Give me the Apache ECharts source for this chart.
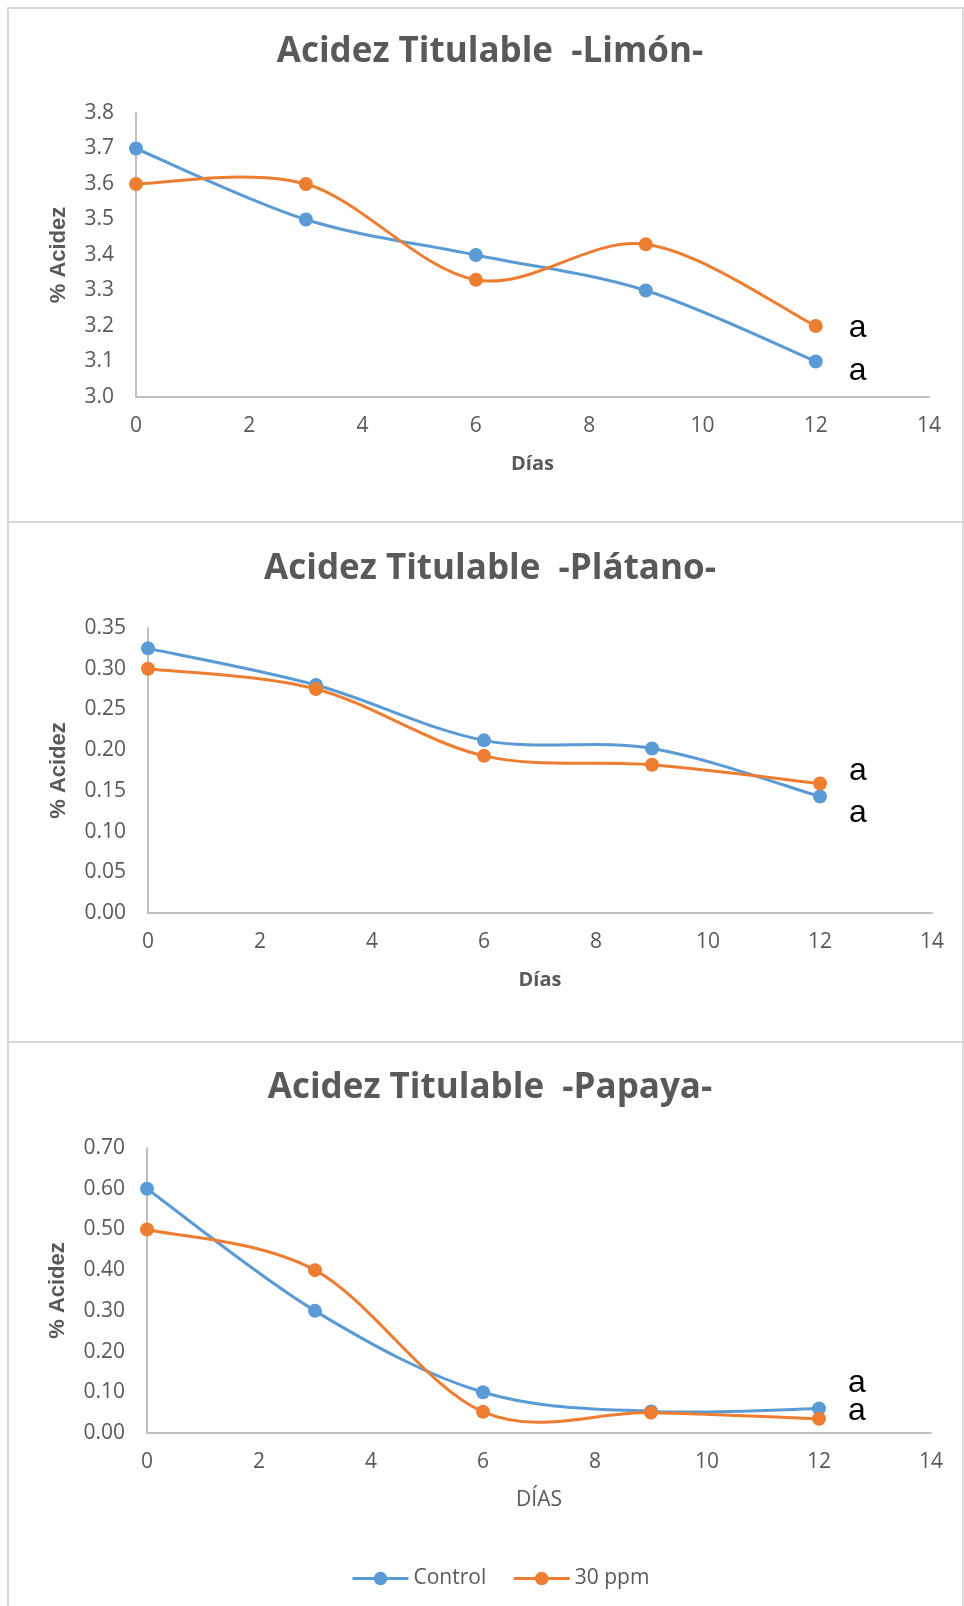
<!DOCTYPE html>
<html>
<head>
<meta charset="utf-8">
<title>Acidez Titulable</title>
<script src="https://cdn.jsdelivr.net/npm/echarts@6/dist/echarts.min.js"></script>
<style>
  html, body { margin: 0; padding: 0; background: #ffffff; }
  #chart { width: 964px; height: 1606px; }
</style>
</head>
<body>
<div id="chart"></div>
<script>
// Días de almacenamiento
const dias = [0, 3, 6, 9, 12];

// Limón
const limonControl = [3.7, 3.5, 3.4, 3.3, 3.1];
const limon30 = [3.6, 3.6, 3.33, 3.43, 3.2];

// Plátano
const platanoControl = [0.325, 0.28, 0.212, 0.202, 0.143];
const platano30 = [0.30, 0.275, 0.193, 0.182, 0.159];

// Papaya
const papayaControl = [0.60, 0.30, 0.10, 0.053, 0.06];
const papaya30 = [0.50, 0.40, 0.052, 0.05, 0.035];

const seriesNames = ['Control', '30 ppm'];
const titulos = ['Acidez Titulable  -Limón-', 'Acidez Titulable  -Plátano-', 'Acidez Titulable  -Papaya-'];
const ejeX = ['Días', 'Días', 'DÍAS'];
const ejeY = '% Acidez';
const letraFinal = 'a';

const BLUE = '#5B9BD5';
const ORANGE = '#ED7D31';
const GRAY = '#595959';
const AXIS = '#BFBFBF';

const panels = [
  { ctrl: limonControl, trt: limon30, min: 3.0, max: 3.8, step: 0.1, dec: 1,
    grid: { left: 136, top: 113, width: 793, height: 284 }, nameGapY: 66,
    titleTop: 35, xBold: true, offCtrl: [42, 10], offTrt: [42, 2] },
  { ctrl: platanoControl, trt: platano30, min: 0, max: 0.35, step: 0.05, dec: 2,
    grid: { left: 148, top: 628, width: 784, height: 285 }, nameGapY: 78,
    titleTop: 552, xBold: true, offCtrl: [38, 17], offTrt: [38, -12] },
  { ctrl: papayaControl, trt: papaya30, min: 0, max: 0.7, step: 0.1, dec: 2,
    grid: { left: 147, top: 1148, width: 784, height: 285 }, nameGapY: 78,
    titleTop: 1071, xBold: false, offCtrl: [38, -25], offTrt: [38, -8] }
];

const pairs = arr => dias.map((d, i) => [d, arr[i]]);

// Smoothed curve segment between point i and i+1 (cardinal spline, tension 1/6),
// computed in pixel space from the axis scales.
function curveRenderer(values, color) {
  return function (params, api) {
    const i = params.dataIndex;
    if (i >= dias.length - 1) return null;
    const pt = k => api.coord([dias[Math.max(0, Math.min(dias.length - 1, k))],
                               values[Math.max(0, Math.min(dias.length - 1, k))]]);
    const p0 = pt(i - 1), p1 = pt(i), p2 = pt(i + 1), p3 = pt(i + 2);
    return {
      type: 'bezierCurve',
      shape: {
        x1: p1[0], y1: p1[1],
        x2: p2[0], y2: p2[1],
        cpx1: p1[0] + (p2[0] - p0[0]) / 6, cpy1: p1[1] + (p2[1] - p0[1]) / 6,
        cpx2: p2[0] - (p3[0] - p1[0]) / 6, cpy2: p2[1] - (p3[1] - p1[1]) / 6
      },
      style: { stroke: color, lineWidth: 3, fill: null, lineCap: 'round' },
      silent: true
    };
  };
}

function lastLabel(offset) {
  return {
    show: true,
    position: 'inside',
    offset: offset,
    fontFamily: 'Liberation Sans, Arial, sans-serif',
    fontSize: 32,
    color: '#000000',
    formatter: p => (p.dataIndex === dias.length - 1 ? letraFinal : '')
  };
}

function markers(name, values, color, i, offset, z) {
  return {
    name: name,
    type: 'line',
    xAxisIndex: i,
    yAxisIndex: i,
    data: pairs(values),
    symbol: 'circle',
    symbolSize: 14,
    lineStyle: { color: color, width: 3, opacity: 0 },
    itemStyle: { color: color },
    label: lastLabel(offset),
    z: z
  };
}

function curve(values, color, i, z) {
  return {
    type: 'custom',
    xAxisIndex: i,
    yAxisIndex: i,
    data: pairs(values),
    renderItem: curveRenderer(values, color),
    clip: false,
    z: z
  };
}

const option = {
  animation: false,
  backgroundColor: '#ffffff',
  title: panels.map((p, i) => ({
    text: titulos[i],
    left: 490,
    top: p.titleTop,
    textAlign: 'center',
    padding: 0,
    textStyle: { fontFamily: 'Open Sans', fontWeight: 'bold', fontSize: 35, color: GRAY }
  })),
  legend: {
    data: seriesNames,
    left: 346,
    top: 1563,
    itemWidth: 56,
    itemHeight: 17,
    itemGap: 26,
    lineStyle: { opacity: 1, width: 3 },
    textStyle: { fontFamily: 'Open Sans', fontSize: 21, color: GRAY }
  },
  grid: panels.map(p => Object.assign({ containLabel: false }, p.grid)),
  xAxis: panels.map((p, i) => ({
    type: 'value',
    gridIndex: i,
    min: 0,
    max: 14,
    interval: 2,
    name: ejeX[i],
    nameLocation: 'middle',
    nameGap: 57,
    nameTextStyle: { fontFamily: 'Open Sans', fontSize: p.xBold ? 20 : 21, fontWeight: p.xBold ? 'bold' : 'normal', color: GRAY },
    axisLine: { show: true, lineStyle: { color: AXIS, width: 2 } },
    axisTick: { show: false },
    splitLine: { show: false },
    axisLabel: { margin: 19, fontFamily: 'Open Sans', fontSize: 21, color: GRAY }
  })),
  yAxis: panels.map((p, i) => ({
    type: 'value',
    gridIndex: i,
    min: p.min,
    max: p.max,
    interval: p.step,
    name: ejeY,
    nameLocation: 'middle',
    nameGap: p.nameGapY,
    nameRotate: 90,
    nameTextStyle: { fontFamily: 'Liberation Sans, Arial, sans-serif', fontSize: 22, fontWeight: 'bold', color: GRAY },
    axisLine: { show: true, lineStyle: { color: AXIS, width: 2 } },
    axisTick: { show: false },
    splitLine: { show: false },
    axisLabel: {
      margin: 22,
      fontFamily: 'Open Sans',
      fontSize: 21,
      color: GRAY,
      formatter: v => v.toFixed(p.dec)
    }
  })),
  series: panels.flatMap((p, i) => [
    curve(p.ctrl, BLUE, i, 2),
    markers(seriesNames[0], p.ctrl, BLUE, i, p.offCtrl, 3),
    curve(p.trt, ORANGE, i, 4),
    markers(seriesNames[1], p.trt, ORANGE, i, p.offTrt, 5)
  ]),
  graphic: [
    { type: 'rect', shape: { x: 8, y: 8, width: 955, height: 514 }, style: { fill: 'none', stroke: '#D9D9D9', lineWidth: 2 }, silent: true, z: -1 },
    { type: 'rect', shape: { x: 8, y: 522, width: 955, height: 520 }, style: { fill: 'none', stroke: '#D9D9D9', lineWidth: 2 }, silent: true, z: -1 },
    { type: 'rect', shape: { x: 8, y: 1042, width: 955, height: 570 }, style: { fill: 'none', stroke: '#D9D9D9', lineWidth: 2 }, silent: true, z: -1 }
  ]
};

const chart = echarts.init(document.getElementById('chart'), null, { renderer: 'canvas' });
chart.setOption(option);
</script>
</body>
</html>
